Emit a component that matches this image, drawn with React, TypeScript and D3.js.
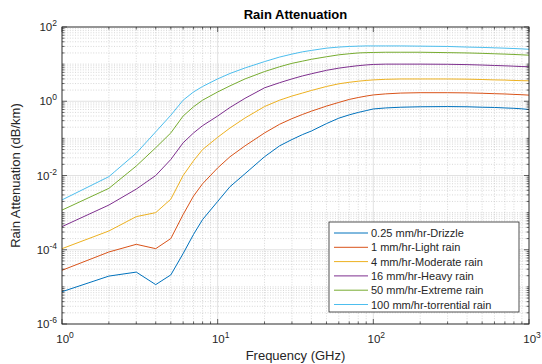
import * as d3 from 'd3';
import * as React from 'react';

// frequency points (GHz)
const freqs = [1, 2, 3, 4, 5, 6, 7, 8, 10, 12, 15, 20, 25, 30, 35, 40, 50, 60, 70, 80, 90, 100, 120, 150, 200, 300, 400, 500, 600, 700, 800, 900, 1000];

// specific attenuation (dB/km) per rain rate
const drizzle = [7.4e-6, 1.95e-5, 2.5e-5, 1.15e-5, 2.1e-5, 7.9e-5, 2.6e-4, 6.5e-4, 2.0e-3, 5.0e-3, 1.12e-2, 3.2e-2, 6.3e-2, 9.3e-2, 0.126, 0.158, 0.25, 0.35, 0.43, 0.5, 0.56, 0.62, 0.66, 0.69, 0.71, 0.72, 0.71, 0.69, 0.68, 0.66, 0.645, 0.625, 0.6];
const light = [2.8e-5, 8.7e-5, 1.4e-4, 1.07e-4, 2.0e-4, 8.9e-4, 2.8e-3, 6.0e-3, 1.6e-2, 3.2e-2, 6.3e-2, 0.14, 0.24, 0.34, 0.44, 0.54, 0.74, 0.93, 1.12, 1.26, 1.38, 1.48, 1.58, 1.66, 1.7, 1.7, 1.68, 1.64, 1.6, 1.57, 1.53, 1.5, 1.46];
const moderate = [1.07e-4, 3.2e-4, 7.8e-4, 1.0e-3, 2.3e-3, 1.0e-2, 2.5e-2, 5.0e-2, 0.107, 0.19, 0.355, 0.72, 1.07, 1.38, 1.66, 1.95, 2.5, 2.95, 3.24, 3.47, 3.63, 3.76, 3.9, 3.98, 3.98, 3.98, 3.94, 3.85, 3.76, 3.72, 3.63, 3.59, 3.55];
const heavy = [4.2e-4, 1.6e-3, 4.3e-3, 1.0e-2, 2.7e-2, 7.6e-2, 0.14, 0.22, 0.4, 0.68, 1.2, 2.3, 3.16, 4.0, 4.8, 5.5, 6.8, 7.8, 8.5, 9.1, 9.5, 9.8, 10.0, 10.0, 10.0, 9.9, 9.7, 9.45, 9.2, 9.0, 8.8, 8.6, 8.5];
const extreme = [1.17e-3, 4.5e-3, 1.8e-2, 5.6e-2, 0.14, 0.4, 0.71, 1.07, 1.78, 2.6, 4.0, 6.3, 8.5, 10.5, 12.0, 13.5, 15.8, 17.8, 19.0, 20.0, 20.4, 20.6, 20.9, 20.9, 20.9, 20.4, 20.0, 19.5, 19.0, 18.6, 18.2, 17.8, 17.4];
const torrential = [2.2e-3, 9.3e-3, 4.0e-2, 0.15, 0.42, 1.07, 1.78, 2.5, 4.0, 5.6, 7.9, 11.7, 15.5, 18.6, 21.4, 23.4, 26.9, 28.8, 29.9, 30.5, 30.9, 30.9, 30.9, 30.9, 30.5, 29.9, 28.8, 28.2, 27.5, 26.9, 26.3, 25.7, 25.1];

const seriesNames = ['0.25 mm/hr-Drizzle', '1 mm/hr-Light rain', '4 mm/hr-Moderate rain', '16 mm/hr-Heavy rain', '50 mm/hr-Extreme rain', '100 mm/hr-torrential rain'];
const seriesValues = [drizzle, light, moderate, heavy, extreme, torrential];
const colors = ['#0072BD', '#D95319', '#EDB120', '#7E2F8E', '#77AC30', '#4DBEEE'];

const xTickExps = [0, 1, 2, 3];
const yTickExps = [2, 0, -2, -4, -6];

const W = 542;
const H = 364;
const margin = { top: 27, right: 13, bottom: 40, left: 62 };
const font = 'Arial, "Liberation Sans", Helvetica, sans-serif';
const ink = '#262626';

const App = () => {
  const x = d3.scaleLog().domain([1, 1000]).range([margin.left, W - margin.right]);
  const y = d3.scaleLog().domain([1e-6, 1e2]).range([H - margin.bottom, margin.top]);
  const [x0, x1] = x.range();
  const [y0, y1] = y.range();

  // all decade/minor positions
  const xMinor: number[] = [];
  for (let e = 0; e < 3; e++) for (let m = 2; m <= 9; m++) xMinor.push(m * 10 ** e);
  const yMinor: number[] = [];
  for (let e = -6; e < 2; e++) for (let m = 1; m <= 9; m++) {
    if (m === 1 && e % 2 === 0) continue;
    yMinor.push(m * 10 ** e);
  }
  const xMajor = xTickExps.map((e) => 10 ** e);
  const yMajor = yTickExps.map((e) => 10 ** e);

  const line = d3
    .line<[number, number]>()
    .x((d) => x(d[0]))
    .y((d) => y(d[1]));

  const legend = { x: 329, y: 222, w: 190, h: 90, row: 14.3 };

  return (
    <svg width={W} height={H} style={{ position: 'absolute', left: 0, top: 0, background: '#fff' }} fontFamily={font}>
      <rect x={0} y={0} width={W} height={H} fill="#fff" />
      <rect x={x0} y={y1} width={x1 - x0} height={y0 - y1} fill="#fff" />

      {/* minor grid */}
      <g stroke="#bdbdbd" strokeWidth={0.6} strokeDasharray="1 1.6">
        {xMinor.map((v, i) => (
          <line key={'xm' + i} x1={x(v)} x2={x(v)} y1={y1} y2={y0} />
        ))}
        {yMinor.map((v, i) => (
          <line key={'ym' + i} x1={x0} x2={x1} y1={y(v)} y2={y(v)} />
        ))}
      </g>
      {/* major grid */}
      <g stroke="#dadada" strokeWidth={0.8}>
        {xMajor.map((v, i) => (
          <line key={'xM' + i} x1={x(v)} x2={x(v)} y1={y1} y2={y0} />
        ))}
        {yMajor.map((v, i) => (
          <line key={'yM' + i} x1={x0} x2={x1} y1={y(v)} y2={y(v)} />
        ))}
      </g>

      {/* series */}
      <g fill="none" strokeWidth={1}>
        {seriesValues.map((vals, i) => (
          <path key={i} d={line(freqs.map((f, j) => [f, vals[j]] as [number, number])) || ''} stroke={colors[i]} />
        ))}
      </g>

      {/* ticks inside box */}
      <g stroke={ink} strokeWidth={0.7}>
        {xMajor.map((v, i) => (
          <g key={'xt' + i}>
            <line x1={x(v)} x2={x(v)} y1={y0} y2={y0 - 5} />
            <line x1={x(v)} x2={x(v)} y1={y1} y2={y1 + 5} />
          </g>
        ))}
        {xMinor.map((v, i) => (
          <g key={'xmt' + i}>
            <line x1={x(v)} x2={x(v)} y1={y0} y2={y0 - 2.5} />
            <line x1={x(v)} x2={x(v)} y1={y1} y2={y1 + 2.5} />
          </g>
        ))}
        {yMajor.map((v, i) => (
          <g key={'yt' + i}>
            <line x1={x0} x2={x0 + 5} y1={y(v)} y2={y(v)} />
            <line x1={x1} x2={x1 - 5} y1={y(v)} y2={y(v)} />
          </g>
        ))}
        {yMinor.map((v, i) => (
          <g key={'ymt' + i}>
            <line x1={x0} x2={x0 + 2.5} y1={y(v)} y2={y(v)} />
            <line x1={x1} x2={x1 - 2.5} y1={y(v)} y2={y(v)} />
          </g>
        ))}
      </g>
      <rect x={x0} y={y1} width={x1 - x0} height={y0 - y1} fill="none" stroke={ink} strokeWidth={0.9} />

      {/* tick labels */}
      <g fill={ink} fontSize={11.5}>
        {xTickExps.map((e) => (
          <text key={'xl' + e} x={x(10 ** e) + 3} y={y0 + 19} textAnchor="middle">
            10<tspan dy={-5} fontSize={8.5}>{e}</tspan>
          </text>
        ))}
        {yTickExps.map((e) => (
          <text key={'yl' + e} x={x0 - 5} y={y(10 ** e) + 4} textAnchor="end">
            10<tspan dy={-5} fontSize={8.5}>{e}</tspan>
          </text>
        ))}
      </g>

      {/* titles */}
      <text x={(x0 + x1) / 2} y={19} textAnchor="middle" fontSize={13} fontWeight="bold" fill="#000">
        Rain Attenuation
      </text>
      <text x={(x0 + x1) / 2} y={360} textAnchor="middle" fontSize={13} fill={ink}>
        Frequency (GHz)
      </text>
      <text transform={`translate(20,${(y0 + y1) / 2}) rotate(-90)`} textAnchor="middle" fontSize={13} fill={ink}>
        Rain Attenuation (dB/km)
      </text>

      {/* legend */}
      <g>
        <rect x={legend.x} y={legend.y} width={legend.w} height={legend.h} fill="#fff" stroke={ink} strokeWidth={0.8} />
        {seriesNames.map((name, i) => {
          const cy = legend.y + 11 + i * legend.row;
          return (
            <g key={name}>
              <line x1={legend.x + 5} x2={legend.x + 39} y1={cy} y2={cy} stroke={colors[i]} strokeWidth={1} />
              <text x={legend.x + 42} y={cy + 4} fontSize={11} fill={ink}>
                {name}
              </text>
            </g>
          );
        })}
      </g>
    </svg>
  );
};

export default App;
